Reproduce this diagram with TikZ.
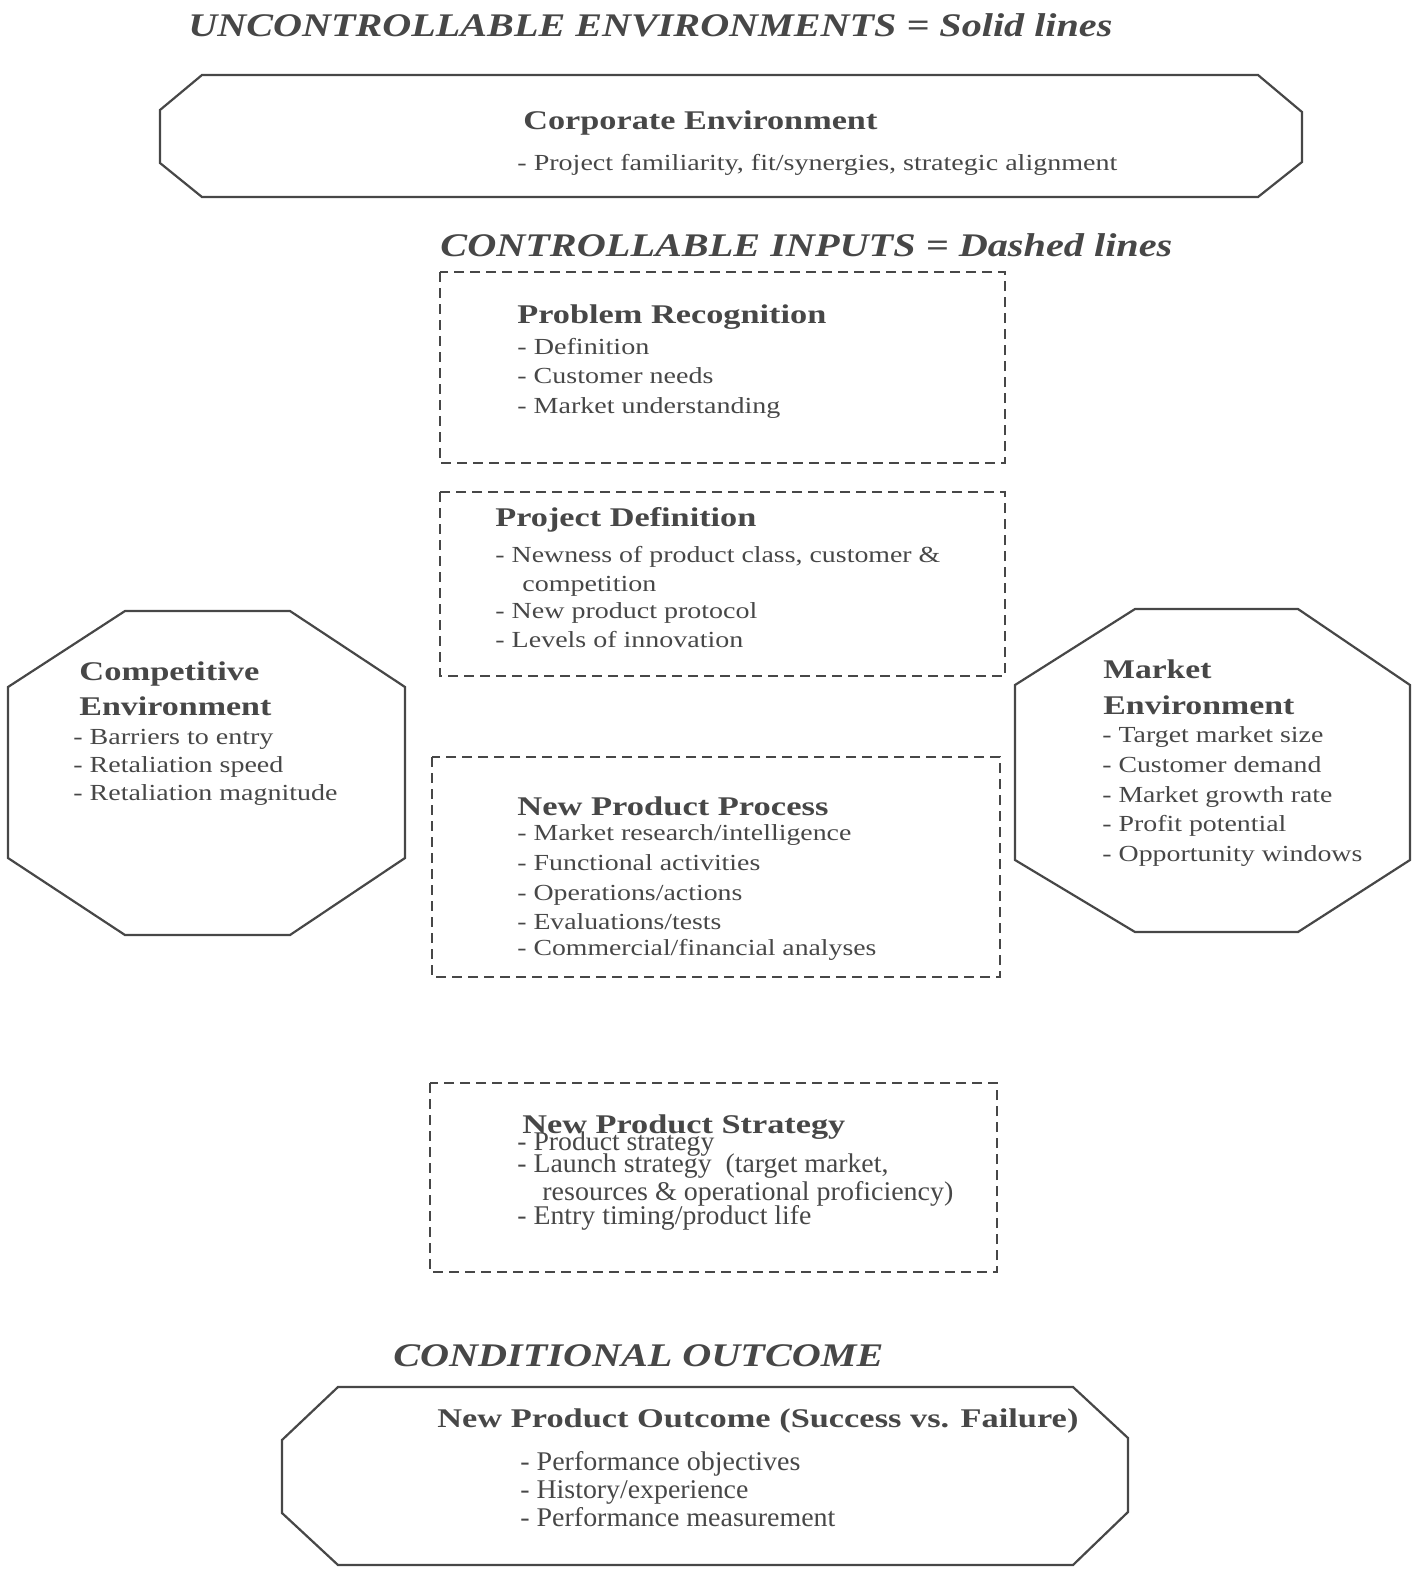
\documentclass[tikz,border=0pt]{standalone}
\usepackage{fontspec}
\setmainfont{Liberation Serif}
\usepackage{graphicx}
\newsavebox\fitbox
\newlength\fitlen
\newcommand\fitto[2]{\sbox\fitbox{#2}\fitlen=\wd\fitbox\pgfmathsetmacro\fitr{0.5*#1/\fitlen}\scalebox{\fitr}[1]{\usebox\fitbox}}
\definecolor{ink}{gray}{0.28}
\begin{document}
\begin{tikzpicture}[x=0.5pt,y=-0.5pt,
  txt/.style={anchor=base west, inner sep=0pt, text=ink, font=\fontsize{11.5}{13}\selectfont},
  big/.style={anchor=base west, inner sep=0pt, text=ink, font=\fontsize{13.5}{15}\selectfont},
  ttl/.style={anchor=base west, inner sep=0pt, text=ink, font=\fontsize{13.5}{15}\selectfont\bfseries},
  head/.style={anchor=base west, inner sep=0pt, text=ink, font=\fontsize{16.5}{18}\selectfont\bfseries\itshape},
  solidbox/.style={draw=ink, line width=1.1pt, line join=miter},
  dashbox/.style={draw=ink, line width=1pt, dash pattern=on 5pt off 3pt}]
\useasboundingbox (0,0) rectangle (1425,1576);

% shapes
\draw[solidbox] (202,75) -- (1258,75) -- (1302,112) -- (1302,162) -- (1258,197) -- (202,197) -- (160,163) -- (160,110) -- cycle;
\draw[dashbox] (440,272) rectangle (1005,463);
\draw[dashbox] (440,492) rectangle (1005,676);
\draw[dashbox] (432,757) rectangle (1000,977);
\draw[dashbox] (430,1083) rectangle (997,1272);
\draw[solidbox] (125,611) -- (290,611) -- (405,687) -- (405,858) -- (290,935) -- (125,935) -- (8,858) -- (8,687) -- cycle;
\draw[solidbox] (1135,609) -- (1298,609) -- (1410,685) -- (1410,860) -- (1298,932) -- (1135,932) -- (1015,860) -- (1015,685) -- cycle;
\draw[solidbox] (338,1387) -- (1073,1387) -- (1128,1438) -- (1128,1512) -- (1073,1565) -- (338,1565) -- (282,1513) -- (282,1440) -- cycle;

% headings
\node[head] (h1) at (188,36) {\fitto{924}{UNCONTROLLABLE ENVIRONMENTS = Solid lines}};
\node[head] (h2) at (440,256) {\fitto{732}{CONTROLLABLE INPUTS = Dashed lines}};
\node[head] (h3) at (393,1366) {\fitto{490}{CONDITIONAL OUTCOME}};

% corporate
\node[ttl] (c0) at (523,129) {\fitto{354}{Corporate Environment}};
\node[txt] (c1) at (517,170) {\fitto{600}{- Project familiarity, fit/synergies, strategic alignment}};

% problem recognition
\node[ttl] (p0) at (517,323) {\fitto{309}{Problem Recognition}};
\node[txt] (p1) at (517,354) {\fitto{132}{- Definition}};
\node[txt] (p2) at (517,383) {\fitto{196}{- Customer needs}};
\node[txt] (p3) at (517,413) {\fitto{263}{- Market understanding}};

% project definition
\node[ttl] (d0) at (495,526) {\fitto{261}{Project Definition}};
\node[txt] (d1) at (495,562) {\fitto{445}{- Newness of product class, customer \&}};
\node[txt] (d2) at (522,591) {\fitto{134}{competition}};
\node[txt] (d3) at (495,618) {\fitto{262}{- New product protocol}};
\node[txt] (d4) at (495,647) {\fitto{248}{- Levels of innovation}};

% competitive
\node[ttl] (e0) at (79,680) {\fitto{180}{Competitive}};
\node[ttl] (e1) at (79,715) {\fitto{192}{Environment}};
\node[txt] (e2) at (73,744) {\fitto{200}{- Barriers to entry}};
\node[txt] (e3) at (73,772) {\fitto{210}{- Retaliation speed}};
\node[txt] (e4) at (73,800) {\fitto{264}{- Retaliation magnitude}};

% market
\node[ttl] (m0) at (1103,678) {\fitto{108}{Market}};
\node[ttl] (m1) at (1103,714) {\fitto{191}{Environment}};
\node[txt] (m2) at (1102,742) {\fitto{221}{- Target market size}};
\node[txt] (m3) at (1102,772) {\fitto{219}{- Customer demand}};
\node[txt] (m4) at (1102,802) {\fitto{230}{- Market growth rate}};
\node[txt] (m5) at (1102,831) {\fitto{184}{- Profit potential}};
\node[txt] (m6) at (1102,861) {\fitto{260}{- Opportunity windows}};

% process
\node[ttl] (n0) at (517,815) {\fitto{311}{New Product Process}};
\node[txt] (n1) at (517,840) {\fitto{334}{- Market research/intelligence}};
\node[txt] (n2) at (517,870) {\fitto{243}{- Functional activities}};
\node[txt] (n3) at (517,900) {\fitto{225}{- Operations/actions}};
\node[txt] (n4) at (517,929) {\fitto{204}{- Evaluations/tests}};
\node[txt] (n5) at (517,955) {\fitto{359}{- Commercial/financial analyses}};

% strategy
\node[ttl] (s0) at (522,1133) {\fitto{323}{New Product Strategy}};
\node[big] (s1) at (517,1150) {\fitto{197}{- Product strategy}};
\node[big] (s2) at (517,1172) {\fitto{371}{- Launch strategy~~(target market,}};
\node[big] (s3) at (542,1200) {\fitto{411}{resources \& operational proficiency)}};
\node[big] (s4) at (517,1224) {\fitto{294}{- Entry timing/product life}};

% outcome
\node[ttl] (o0) at (437,1427) {\fitto{641}{New Product Outcome (Success vs. Failure)}};
\node[big] (o1) at (520,1470) {\fitto{280}{- Performance objectives}};
\node[big] (o2) at (520,1498) {\fitto{228}{- History/experience}};
\node[big] (o3) at (520,1526) {\fitto{315}{- Performance measurement}};
\end{tikzpicture}
\end{document}
